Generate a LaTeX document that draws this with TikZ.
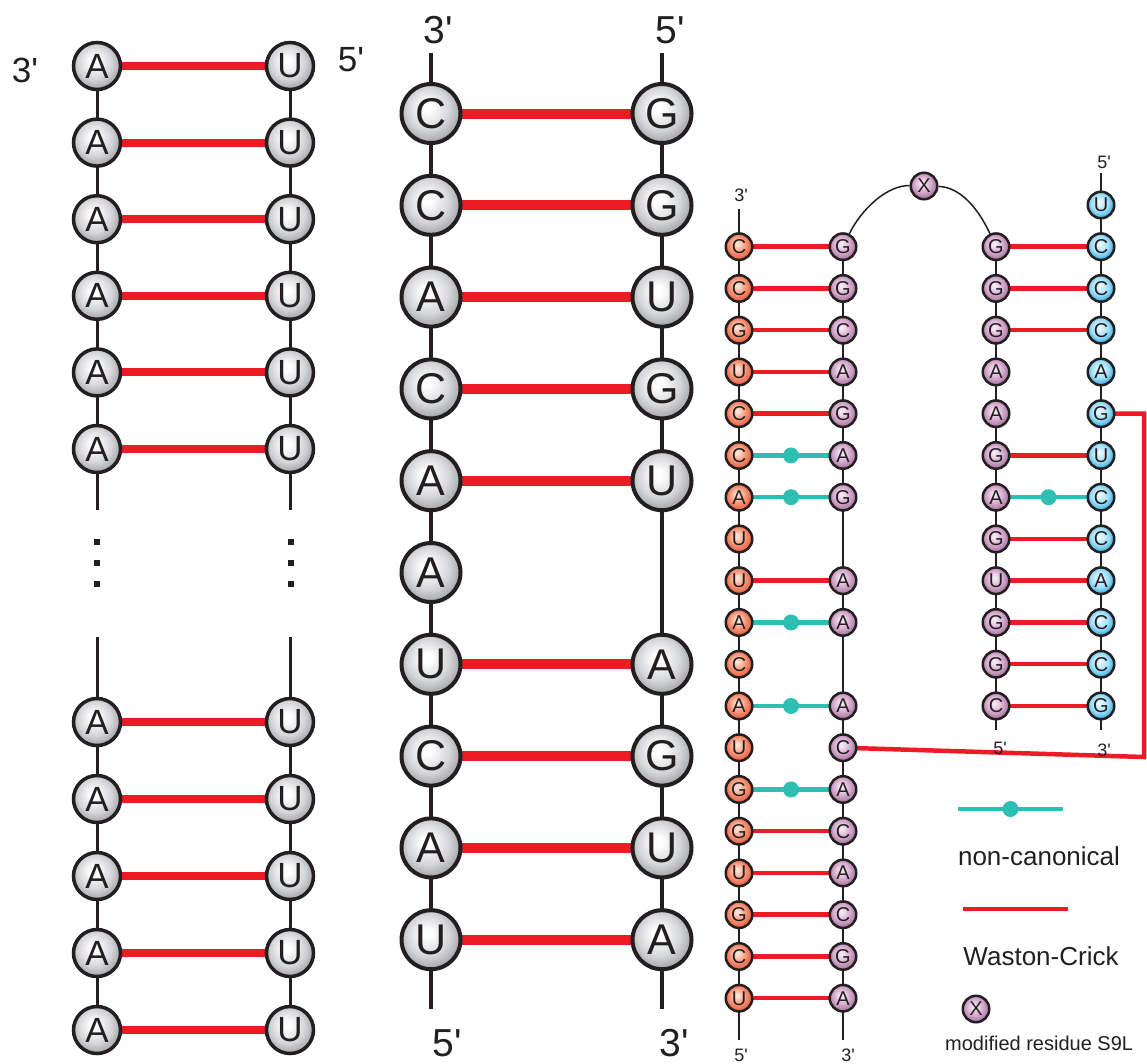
\documentclass[tikz,border=0pt]{standalone}
\usepackage{fontspec}
\newfontfamily\hv{Liberation Sans}
\definecolor{wcred}{HTML}{ED1C24}
\definecolor{ncteal}{HTML}{2EBFB3}
\definecolor{gMid}{HTML}{D4D5D7}
\definecolor{gEdge}{HTML}{96989B}
\definecolor{oIn}{HTML}{FDE0D2}
\definecolor{oMid}{HTML}{F58C6C}
\definecolor{oEdge}{HTML}{E8563A}
\definecolor{pIn}{HTML}{F6E6F2}
\definecolor{pMid}{HTML}{D0A4C9}
\definecolor{pEdge}{HTML}{A06C98}
\definecolor{bIn}{HTML}{E6F7FE}
\definecolor{bMid}{HTML}{9CDCF6}
\definecolor{bEdge}{HTML}{22A5E0}
\definecolor{ink}{HTML}{231F20}
\pgfdeclareradialshading{gball}{\pgfpoint{-4bp}{6bp}}{color(0bp)=(white); color(4bp)=(white); color(18bp)=(gMid); color(30bp)=(gEdge); color(50bp)=(gEdge)}
\pgfdeclareradialshading{oball}{\pgfpoint{-4bp}{6bp}}{color(0bp)=(oIn); color(3bp)=(oIn); color(17bp)=(oMid); color(28bp)=(oEdge); color(50bp)=(oEdge)}
\pgfdeclareradialshading{pball}{\pgfpoint{-4bp}{6bp}}{color(0bp)=(pIn); color(3bp)=(pIn); color(17bp)=(pMid); color(28bp)=(pEdge); color(50bp)=(pEdge)}
\pgfdeclareradialshading{bball}{\pgfpoint{-4bp}{6bp}}{color(0bp)=(bIn); color(3bp)=(bIn); color(17bp)=(bMid); color(28bp)=(bEdge); color(50bp)=(bEdge)}
\pgfdeclarelayer{bg}
\pgfsetlayers{bg,main}
\begin{document}
\begin{tikzpicture}[x=1pt,y=-1pt,
  nbase/.style={circle, draw=ink, inner sep=0pt, text=ink},
  gbig/.style={nbase, minimum size=47pt, line width=3.5pt, shading=gball, font=\hv\fontsize{35}{35}\selectfont},
  gmid/.style={nbase, minimum size=59pt, line width=4pt, shading=gball, font=\hv\fontsize{43}{43}\selectfont},
  small/.style={nbase, minimum size=26.5pt, line width=2.5pt, font=\hv\fontsize{20}{20}\selectfont},
  onode/.style={small, shading=oball},
  pnode/.style={small, shading=pball},
  bnode/.style={small, shading=bball},
  bb1/.style={draw=ink, line width=3pt},
  bb2/.style={draw=ink, line width=3.5pt},
  bb3/.style={draw=ink, line width=2pt},
  wc1/.style={draw=wcred, line width=8pt},
  wc2/.style={draw=wcred, line width=10pt},
  wc3/.style={draw=wcred, line width=4.5pt},
  nc/.style={draw=ncteal, line width=4.5pt},
  ncdot/.style={circle, fill=ncteal, inner sep=0pt, minimum size=16pt},
  endlab/.style={text=ink, inner sep=0pt},
  biglab/.style={endlab, font=\hv\fontsize{35}{35}\selectfont},
  midlab/.style={endlab, font=\hv\fontsize{39}{39}\selectfont},
  smlab/.style={endlab, font=\hv\fontsize{18}{18}\selectfont},
  leglab/.style={endlab, font=\hv\fontsize{26}{26}\selectfont},
]
\useasboundingbox (0,0) rectangle (1147,1063);

% ---------------- Panel 1 ----------------
\foreach \i/\y in {1/66,2/142.6,3/219.2,4/295.8,5/372.4,6/449,7/722,8/799,9/876,10/953,11/1030} {
  \node[gbig] (a\i) at (97,\y) {A};
  \node[gbig] (u\i) at (290,\y) {U};
}
\coordinate (a6e) at (97,510);
\coordinate (u6e) at (290,510);
\coordinate (a7s) at (97,637);
\coordinate (u7s) at (290,637);
\node[biglab] (l3a) at (25,70) {3'};
\node[biglab] (l5a) at (351,60) {5'};
\foreach \y in {542,563,584} {
  \fill[ink] (94.2,\y-3) rectangle (100.2,\y+3);
  \fill[ink] (288.2,\y-3) rectangle (294.2,\y+3);
}
\begin{pgfonlayer}{bg}
  \draw[bb1] (a1.center) -- (a6.center) -- (a6e);
  \draw[bb1] (u1.center) -- (u6.center) -- (u6e);
  \draw[bb1] (a7s) -- (a11.center);
  \draw[bb1] (u7s) -- (u11.center);
  \foreach \i in {1,...,11} { \draw[wc1] (a\i.center) -- (u\i.center); }
\end{pgfonlayer}

% ---------------- Panel 2 ----------------
\foreach \i/\l/\r in {0/C/G,1/C/G,2/A/U,3/C/G,4/A/U,6/U/A,7/C/G,8/A/U,9/U/A} {
  \node[gmid] (m\i) at (431,{113.5+91.8*\i}) {\l};
  \node[gmid] (n\i) at (662,{113.5+91.8*\i}) {\r};
}
\node[gmid] (m5) at (431,{113.5+91.8*5}) {A};
\coordinate (mt) at (431,53);
\coordinate (nt) at (662,53);
\coordinate (mb) at (431,1009);
\coordinate (nb) at (662,1009);
\node[midlab] (l3m) at (438,30) {3'};
\node[midlab] (l5m) at (670,30) {5'};
\node[midlab] (l5mb) at (447,1043) {5'};
\node[midlab] (l3mb) at (674,1043) {3'};
\begin{pgfonlayer}{bg}
  \draw[bb2] (mt) -- (m0.center) -- (m9.center) -- (mb);
  \draw[bb2] (nt) -- (n0.center) -- (n9.center) -- (nb);
  \foreach \i in {0,1,2,3,4,6,7,8,9} { \draw[wc2] (m\i.center) -- (n\i.center); }
\end{pgfonlayer}

% ---------------- Panel 3 ----------------
\foreach \l [count=\i from 0] in {C,C,G,U,C,C,A,U,U,A,C,A,U,G,G,U,G,C,U} {
  \node[onode] (o\i) at (739,{246.7+41.75*\i}) {\l};
}
\foreach \i/\l in {0/G,1/G,2/C,3/A,4/G,5/A,6/G,8/A,9/A,11/A,12/C,13/A,14/C,15/A,16/C,17/G,18/A} {
  \node[pnode] (p\i) at (843,{246.7+41.75*\i}) {\l};
}
\foreach \l [count=\i from 0] in {G,G,G,A,A,G,A,G,U,G,G,C} {
  \node[pnode] (q\i) at (996,{246.7+41.75*\i}) {\l};
}
\node[bnode] (bU) at (1101,205) {U};
\foreach \l [count=\i from 0] in {C,C,C,A,G,U,C,C,A,C,C,G} {
  \node[bnode] (b\i) at (1101,{246.7+41.75*\i}) {\l};
}
\node[pnode] (X) at (924,186) {X};
\coordinate (ot) at (739,209);
\coordinate (obot) at (739,1040);
\coordinate (pbot) at (843,1040);
\coordinate (bt) at (1101,173);
\coordinate (qbot) at (996,730);
\coordinate (bbot) at (1101,730);
\coordinate (w1) at (1144,757);
\coordinate (w2) at (1144,413.7);
\node[smlab] (l3o) at (741,195) {3'};
\node[smlab] (l5b) at (1104,162) {5'};
\node[smlab] (l5o) at (741,1055) {5'};
\node[smlab] (l3p) at (848,1055) {3'};
\node[smlab] (l5q) at (1000,748) {5'};
\node[smlab] (l3b) at (1104,750) {3'};
\begin{pgfonlayer}{bg}
  \draw[bb3] (ot) -- (o0.center) -- (o18.center) -- (obot);
  \draw[bb3] (p0.center) -- (p18.center) -- (pbot);
  \draw[bb3] (q0.center) -- (q11.center) -- (qbot);
  \draw[bb3] (bt) -- (bU.center) -- (b11.center) -- (bbot);
  \draw[ink, line width=1.5pt] (p0) .. controls (862,208) and (888,185) .. (X);
  \draw[ink, line width=1.5pt] (X) .. controls (960,187) and (978,208) .. (q0);
  \foreach \i in {0,1,2,3,4,8,14,15,16,17,18} { \draw[wc3] (o\i.center) -- (p\i.center); }
  \foreach \i in {5,6,9,11,13} { \draw[nc] (o\i.center) -- (p\i.center) node[midway, ncdot] (dl\i) {}; }
  \foreach \i in {0,1,2,5,7,8,9,10,11} { \draw[wc3] (q\i.center) -- (b\i.center); }
  \draw[nc] (q6.center) -- (b6.center) node[midway, ncdot] (dr6) {};
  \draw[wc3, line join=miter] (p12.center) -- (w1) -- (w2) -- (b4.center);
\end{pgfonlayer}

% ---------------- Legend ----------------
\coordinate (lg1) at (958,809);
\coordinate (lg2) at (1063,809);
\coordinate (lg3) at (963,909);
\coordinate (lg4) at (1068,909);
\draw[nc] (lg1) -- (lg2) node[midway, ncdot] (lgd) {};
\draw[wc3] (lg3) -- (lg4);
\node[leglab] (tnc) at (1039,856) {non-canonical};
\node[leglab] (twc) at (1041,956) {Waston-Crick};
\node[pnode] (lgX) at (976,1009) {X};
\node[endlab, font=\hv\fontsize{20}{20}\selectfont, anchor=west] (tmod) at (945,1043) {modified residue S9L};
\end{tikzpicture}
\end{document}
